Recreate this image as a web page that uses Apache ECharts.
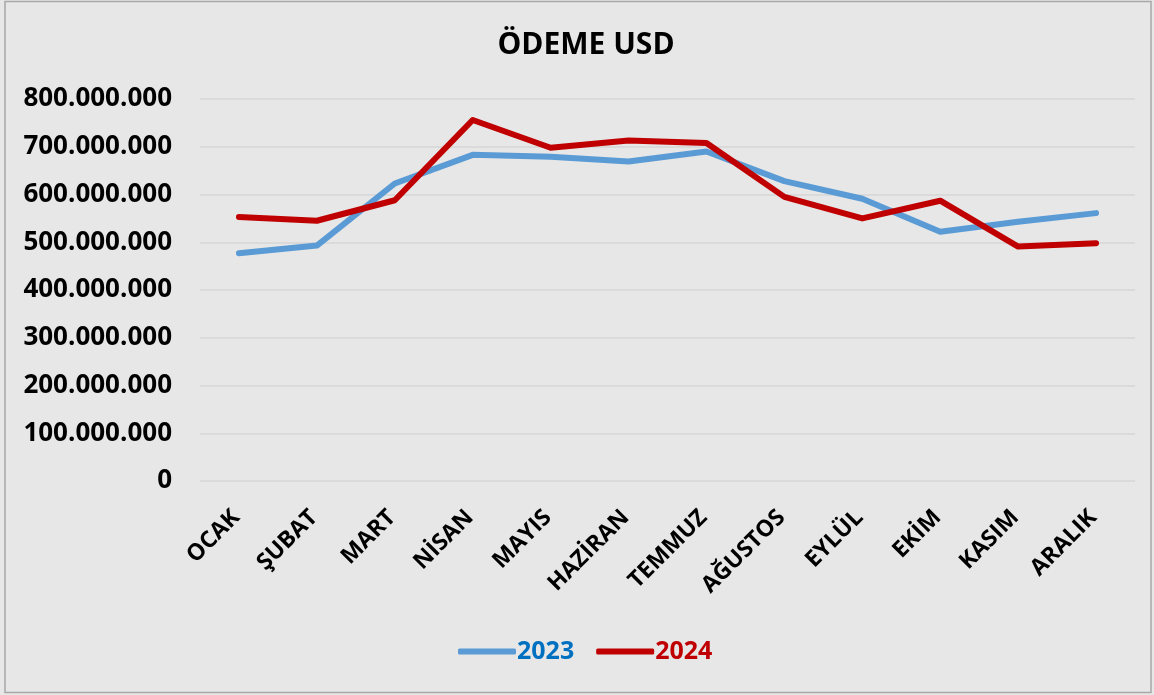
<!DOCTYPE html>
<html><head><meta charset="utf-8">
<script src="https://cdn.jsdelivr.net/npm/echarts@6/dist/echarts.min.js"></script>
<style>html,body{margin:0;padding:0;background:#e7e7e7}#c{width:1154px;height:695px}</style>
</head><body><div id="c"></div>
<script>
const titleText = 'ÖDEME USD';
const months = ['OCAK','ŞUBAT','MART','NİSAN','MAYIS','HAZİRAN','TEMMUZ','AĞUSTOS','EYLÜL','EKİM','KASIM','ARALIK'];
const s2023 = [477000000,493000000,623000000,683000000,679000000,669000000,690000000,628000000,591000000,522000000,543000000,561000000];
const s2024 = [553000000,545000000,588000000,756000000,698000000,713000000,708000000,595000000,550000000,587000000,491000000,498000000];
const yTicks = [0,100000000,200000000,300000000,400000000,500000000,600000000,700000000,800000000];

const FONT = 'Open Sans';
const fmt = v => v === 0 ? '0' : String(v).replace(/\B(?=(\d{3})+(?!\d))/g, '.');
const chart = echarts.init(document.getElementById('c'), null, {renderer:'canvas'});
chart.setOption({
  backgroundColor:'#e7e7e7',
  animation:false,
  title:{text:titleText,left:581,textAlign:'center',top:25,
    textStyle:{fontFamily:FONT,fontWeight:'bold',fontSize:30,color:'#000'}},
  legend:{top:634,left:453,itemWidth:58,itemHeight:6,itemGap:22,icon:'roundRect',
    textStyle:{fontFamily:FONT,fontWeight:'bold',fontSize:25,padding:[0,0,0,-4]},
    data:[{name:'2023',textStyle:{color:'#0070C0'}},{name:'2024',textStyle:{color:'#C00000'}}]},
  grid:{left:200,right:19,top:99,bottom:214,containLabel:false},
  xAxis:{type:'category',data:months,boundaryGap:true,
    axisLine:{show:false},axisTick:{show:false},
    axisLabel:{interval:0,rotate:45,margin:30,padding:[0,4,0,0],
      fontFamily:FONT,fontWeight:'bold',fontSize:23,color:'#000'}},
  yAxis:{type:'value',min:yTicks[0],max:yTicks[yTicks.length-1],interval:yTicks[1]-yTicks[0],
    axisLine:{show:false},axisTick:{show:false},
    splitLine:{lineStyle:{color:'#d6d6d6',width:1.5}},
    axisLabel:{margin:28,fontFamily:FONT,fontWeight:'bold',fontSize:26,color:'#000',
      formatter:v=>fmt(v)}},
  graphic:[{type:'rect',shape:{x:5,y:1.5,width:1146,height:691},
    style:{fill:null,stroke:'#a8a8a8',lineWidth:1.5},silent:true,z:100}],
  series:[
    {name:'2023',type:'line',data:s2023,showSymbol:false,symbol:'none',
      lineStyle:{width:6,color:'#5B9BD5',cap:'round',join:'round'},itemStyle:{color:'#5B9BD5'}},
    {name:'2024',type:'line',data:s2024,showSymbol:false,symbol:'none',
      lineStyle:{width:6,color:'#C00000',cap:'round',join:'round'},itemStyle:{color:'#C00000'}}
  ]
});
</script></body></html>
